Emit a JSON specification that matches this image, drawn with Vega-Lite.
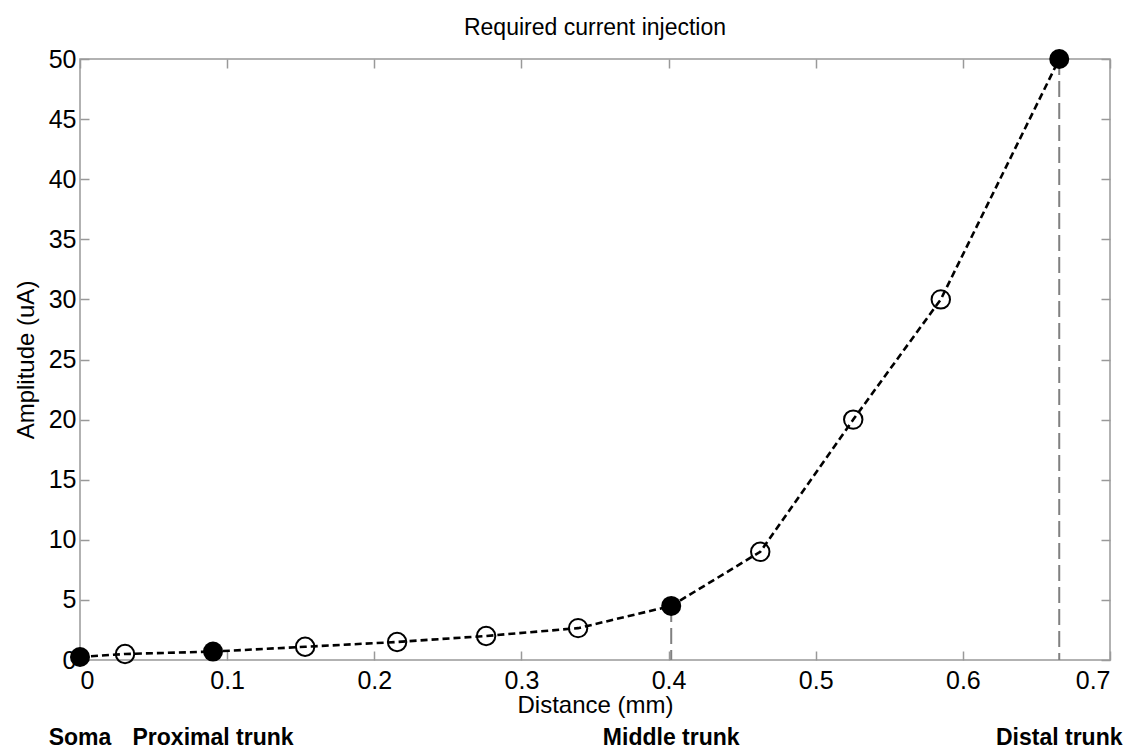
{
  "$schema": "https://vega.github.io/schema/vega-lite/v6.json",
  "width": 1030,
  "height": 601,
  "autosize": "none",
  "padding": {"left": 80, "top": 59, "right": 30, "bottom": 91},
  "background": "white",
  "title": {"text": "Required current injection", "fontSize": 23, "font": "Liberation Sans", "fontWeight": "normal", "color": "black", "offset": 7},
  "config": {
    "view": {"stroke": "#999999", "strokeWidth": 1.5},
    "axis": {
      "domain": false, "grid": false,
      "tickColor": "#999999", "tickWidth": 1.5, "tickSize": -9,
      "labelFont": "Liberation Sans", "labelFontSize": 25, "labelColor": "black",
      "titleFont": "Liberation Sans", "titleFontSize": 24, "titleFontWeight": "normal", "titleColor": "black"
    }
  },
  "data": {"values": [
    {"d": 0, "amp": 0.25, "site": "Soma"},
    {"d": 0.0306, "amp": 0.5},
    {"d": 0.0904, "amp": 0.7, "site": "Proximal trunk"},
    {"d": 0.153, "amp": 1.1},
    {"d": 0.2155, "amp": 1.5},
    {"d": 0.276, "amp": 2.0},
    {"d": 0.3385, "amp": 2.65},
    {"d": 0.4018, "amp": 4.5, "site": "Middle trunk"},
    {"d": 0.4623, "amp": 9},
    {"d": 0.5255, "amp": 20},
    {"d": 0.585, "amp": 30},
    {"d": 0.6655, "amp": 50, "site": "Distal trunk"}
  ]},
  "layer": [
    {
      "transform": [{"filter": "isValid(datum.site)"}],
      "mark": {"type": "rule", "color": "#808080", "strokeWidth": 2, "strokeDash": [16, 6]},
      "encoding": {
        "x": {"field": "d", "type": "quantitative", "scale": {"domain": [0, 0.7]},
              "axis": {"orient": "top", "labels": false, "title": null, "values": [0, 0.1, 0.2, 0.3, 0.4, 0.5, 0.6, 0.7]}},
        "y": {"field": "amp", "type": "quantitative", "scale": {"domain": [0, 50]},
              "axis": {"orient": "right", "labels": false, "title": null, "values": [0, 5, 10, 15, 20, 25, 30, 35, 40, 45, 50]}},
        "y2": {"datum": 0}
      }
    },
    {
      "mark": {"type": "line", "color": "black", "strokeWidth": 2.6, "strokeDash": [7, 4]},
      "encoding": {
        "x": {"field": "d", "type": "quantitative", "scale": {"domain": [0, 0.7]},
              "axis": {"orient": "bottom", "title": "Distance (mm)", "values": [0, 0.1, 0.2, 0.3, 0.4, 0.5, 0.6, 0.7], "format": "~g", "labelPadding": 17, "titlePadding": 0}},
        "y": {"field": "amp", "type": "quantitative", "scale": {"domain": [0, 50]},
              "axis": {"orient": "left", "title": "Amplitude (uA)", "values": [0, 5, 10, 15, 20, 25, 30, 35, 40, 45, 50], "format": "d", "labelPadding": 13, "titlePadding": 10}}
      }
    },
    {
      "transform": [{"filter": "!isValid(datum.site)"}],
      "mark": {"type": "point", "shape": "circle", "filled": false, "color": "black", "strokeWidth": 2, "size": 340, "opacity": 1},
      "encoding": {
        "x": {"field": "d", "type": "quantitative", "axis": null},
        "y": {"field": "amp", "type": "quantitative", "axis": null}
      }
    },
    {
      "transform": [{"filter": "isValid(datum.site)"}],
      "mark": {"type": "point", "shape": "circle", "filled": true, "color": "black", "size": 400, "opacity": 1},
      "encoding": {
        "x": {"field": "d", "type": "quantitative", "axis": null},
        "y": {"field": "amp", "type": "quantitative", "axis": null}
      }
    },
    {
      "transform": [{"filter": "isValid(datum.site)"}],
      "mark": {"type": "text", "font": "Liberation Sans", "fontWeight": "bold", "fontSize": 23, "color": "black", "align": "center", "baseline": "alphabetic"},
      "encoding": {
        "x": {"field": "d", "type": "quantitative", "axis": null},
        "y": {"datum": -7.05, "type": "quantitative", "axis": null},
        "text": {"field": "site"}
      }
    }
  ]
}
